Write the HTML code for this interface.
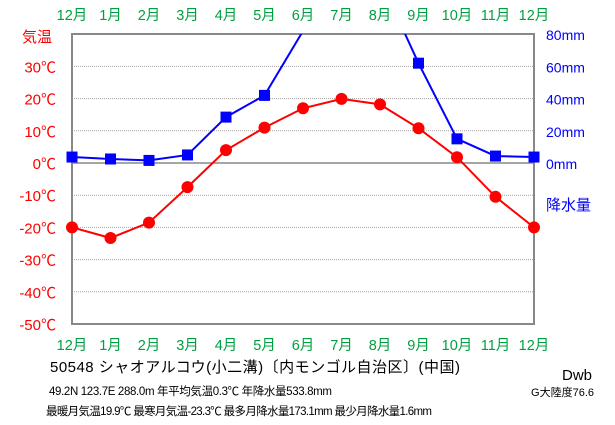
<!DOCTYPE html>
<html><head><meta charset="utf-8"><style>
body{margin:0;background:#fff;}
svg{display:block;font-family:"Liberation Sans","Noto Sans CJK JP",sans-serif;}
</style></head><body>
<svg id="c" width="615" height="425" viewBox="0 0 615 425">
<defs><clipPath id="pc"><rect x="72" y="34" width="462" height="290"/></clipPath></defs>
<g id="grid"></g>
<rect x="72" y="34" width="462" height="290" fill="none" stroke="#888" stroke-width="2"/>
<g id="axes"></g>
<g id="lines" clip-path="url(#pc)"></g>
<g id="series"></g>
<text x="22" y="42" fill="#f00" font-size="15">気温</text>
<text x="546" y="210" fill="#00f" font-size="15">降水量</text>
<text x="50" y="372" font-size="15" fill="#000" textLength="410">50548 シャオアルコウ(小二溝)〔内モンゴル自治区〕(中国)</text>
<text x="592" y="380" font-size="15" fill="#000" text-anchor="end">Dwb</text>
<text x="594" y="396" font-size="11" fill="#000" text-anchor="end">G大陸度76.6</text>
<text x="49" y="395" font-size="11.5" fill="#000" textLength="283">49.2N 123.7E 288.0m 年平均気温0.3℃ 年降水量533.8mm</text>
<text x="46" y="415" font-size="11.5" fill="#000" textLength="386">最暖月気温19.9℃ 最寒月気温-23.3℃ 最多月降水量173.1mm 最少月降水量1.6mm</text>
</svg>
<script>
const months=["12月","1月","2月","3月","4月","5月","6月","7月","8月","9月","10月","11月","12月"];
const temps=[-20,-23.3,-18.5,-7.5,4,11,17,19.9,18.2,10.8,1.8,-10.5,-20];
const precip=[3.7,2.5,1.6,5,28.5,42,82,173.1,114,62,15,4.3,3.7];
const tempTicks=[30,20,10,0,-10,-20,-30,-40,-50];
const precipTicks=[80,60,40,20,0];
const NS="http://www.w3.org/2000/svg";
const x=i=>72+i*38.5;
const yT=t=>163-t*3.22;
const yP=p=>163-p*1.61;
function mk(tag,attrs,parent,txt){const e=document.createElementNS(NS,tag);for(const k in attrs)e.setAttribute(k,attrs[k]);if(txt!==undefined)e.textContent=txt;document.getElementById(parent).appendChild(e);return e;}
tempTicks.forEach(t=>{
  if(t<40&&t>-50){const l=mk('line',{x1:72,x2:534,y1:yT(t),y2:yT(t),stroke:t===0?'#888':'#a8a0a0','stroke-width':t===0?1.5:1,'stroke-dasharray':t===0?'':'1,1'},'grid');
  
  }
  const tx=mk('text',{x:56,y:yT(t)+6,'text-anchor':'end',fill:'#f00','font-size':15},'axes',t+'℃');
  
  
});
precipTicks.forEach(p=>{
  const tx=mk('text',{x:546,y:yP(p)+6,fill:'#00f','font-size':14},'axes',p+'mm');
  
  
});
months.forEach((m,i)=>{
  [20,350].forEach(yy=>{
    const tx=mk('text',{x:x(i),y:yy,'text-anchor':'middle',fill:'#00a040','font-size':14.5},'axes',m);
    
    
  });
});
const pl=mk('polyline',{points:precip.map((p,i)=>x(i)+','+yP(p)).join(' '),fill:'none',stroke:'#00f','stroke-width':2},'lines');


const tl=mk('polyline',{points:temps.map((t,i)=>x(i)+','+yT(t)).join(' '),fill:'none',stroke:'#f00','stroke-width':2},'lines');


precip.forEach((p,i)=>{
  if(yP(p)<34)return;
  const r=mk('rect',{x:x(i)-5.5,y:yP(p)-5.5,width:11,height:11,fill:'#00f'},'series');
  
  
});
temps.forEach((t,i)=>{
  const c=mk('circle',{cx:x(i),cy:yT(t),r:6,fill:'#f00'},'series');
  
  
});
</script>
</body></html>
